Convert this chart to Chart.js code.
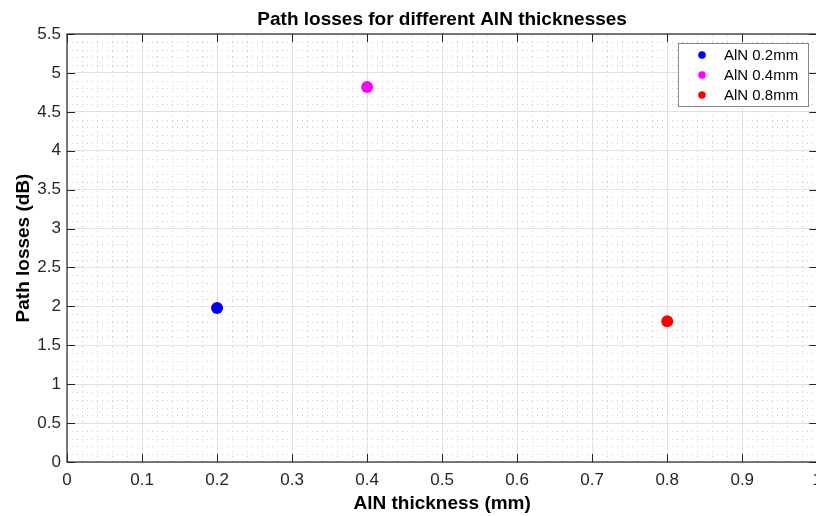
<!DOCTYPE html>
<html lang="en">
<head>
  <meta charset="UTF-8">
  <title>Path losses for different AlN thicknesses</title>
  <script src="https://cdn.jsdelivr.net/npm/chart.js"></script>
  <style>
    html, body {
      margin: 0;
      padding: 0;
      background: #fff;
      overflow: hidden;
    }

    .wrap {
      width: 830px;
      height: 516px;
    }
  </style>
</head>
<body>
  <div class="wrap"><canvas id="chart" width="830" height="516"></canvas></div>

  <script>
    // measured path losses, one point per AlN layer
    const seriesLabels = ['AlN 0.2mm', 'AlN 0.4mm', 'AlN 0.8mm'];
    const thickness = [0.2, 0.4, 0.8];
    const pathLoss = [1.98, 4.82, 1.81];
    const seriesColors = ['#0000ff', '#ff00ff', '#ff0000'];

    const xTicks = [0, 0.1, 0.2, 0.3, 0.4, 0.5, 0.6, 0.7, 0.8, 0.9, 1];
    const yTicks = [0, 0.5, 1, 1.5, 2, 2.5, 3, 3.5, 4, 4.5, 5, 5.5];

    const chartTitle = 'Path losses for different AlN thicknesses';

    const FONT = "'Liberation Sans', Arial, Helvetica, sans-serif";
    const AXIS = '#262626';

    // dotted minor grid, boxed axes with inward ticks, title over the plot
    const framePlugin = {
      id: 'frame',
      beforeDatasetsDraw(chart) {
        const { ctx, chartArea: a, scales: { x, y } } = chart;
        ctx.save();
        ctx.strokeStyle = '#cdcdcd';
        ctx.lineWidth = 1;
        ctx.setLineDash([1, 4]);
        for (let i = 1; i < 50; i++) {
          if (i % 5 === 0) continue;
          const px = Math.round(x.getPixelForValue(i / 50)) + 0.5;
          ctx.beginPath();
          ctx.moveTo(px, a.bottom);
          ctx.lineTo(px, a.top);
          ctx.stroke();
        }
        for (let i = 1; i < 55; i++) {
          if (i % 5 === 0) continue;
          const py = Math.round(y.getPixelForValue(i / 10)) + 0.5;
          ctx.beginPath();
          ctx.moveTo(a.left, py);
          ctx.lineTo(a.right, py);
          ctx.stroke();
        }
        ctx.setLineDash([]);

        ctx.strokeStyle = AXIS;
        ctx.lineWidth = 1.2;
        ctx.strokeRect(a.left, a.top, a.right - a.left, a.bottom - a.top);

        const tl = 8;
        ctx.lineWidth = 1;
        ctx.beginPath();
        xTicks.forEach(v => {
          const px = Math.round(x.getPixelForValue(v)) + 0.5;
          ctx.moveTo(px, a.bottom); ctx.lineTo(px, a.bottom - tl);
          ctx.moveTo(px, a.top); ctx.lineTo(px, a.top + tl);
        });
        yTicks.forEach(v => {
          const py = Math.round(y.getPixelForValue(v)) + 0.5;
          ctx.moveTo(a.left, py); ctx.lineTo(a.left + tl, py);
          ctx.moveTo(a.right, py); ctx.lineTo(a.right - tl, py);
        });
        ctx.stroke();

        ctx.fillStyle = '#000';
        ctx.font = 'bold 19px ' + FONT;
        ctx.textAlign = 'center';
        ctx.textBaseline = 'middle';
        ctx.fillText(chartTitle, (a.left + a.right) / 2, 20);
        ctx.restore();
      },
      afterDatasetsDraw(chart) {
        // legend box in the upper right corner
        const { ctx } = chart;
        const bx = 678, by = 43, bw = 130, bh = 63;
        ctx.save();
        ctx.fillStyle = '#fff';
        ctx.fillRect(bx, by, bw, bh);
        ctx.strokeStyle = '#8a8a8a';
        ctx.lineWidth = 1;
        ctx.strokeRect(bx + 0.5, by + 0.5, bw, bh);
        ctx.font = '15px ' + FONT;
        ctx.textBaseline = 'middle';
        chart.data.datasets.forEach((ds, i) => {
          const cy = by + 12 + i * 20;
          ctx.fillStyle = ds.backgroundColor;
          ctx.beginPath();
          ctx.arc(bx + 24, cy, 3.8, 0, Math.PI * 2);
          ctx.fill();
          ctx.fillStyle = '#000';
          ctx.fillText(ds.label, bx + 46, cy + 1);
        });
        ctx.restore();
      }
    };

    const fmt = v => String(Number(v.toFixed(2)));

    new Chart(document.getElementById('chart'), {
      type: 'scatter',
      data: {
        datasets: seriesLabels.map((label, i) => ({
          label,
          data: [{ x: thickness[i], y: pathLoss[i] }],
          backgroundColor: seriesColors[i],
          borderColor: seriesColors[i],
          borderWidth: 0,
          pointRadius: 6,
          pointHoverRadius: 6
        }))
      },
      options: {
        responsive: false,
        animation: false,
        devicePixelRatio: 1,
        layout: { padding: { top: 34, right: 12, bottom: 0, left: 0 } },
        plugins: {
          legend: { display: false },
          tooltip: { enabled: false },
          title: { display: false }
        },
        scales: {
          x: {
            type: 'linear',
            min: 0,
            max: 1,
            afterBuildTicks: s => { s.ticks = xTicks.map(value => ({ value })); },
            afterFit: s => { s.height = 54; },
            ticks: {
              color: AXIS,
              font: { family: FONT, size: 17 },
              padding: 8,
              maxRotation: 0,
              autoSkip: false,
              callback: fmt
            },
            grid: { color: '#e2e2e2', drawTicks: false },
            border: { display: false },
            title: {
              display: true,
              text: 'AlN thickness (mm)',
              color: '#000',
              font: { family: FONT, size: 19, weight: 'bold' },
              padding: { top: 0, bottom: 1 }
            }
          },
          y: {
            type: 'linear',
            min: 0,
            max: 5.5,
            afterBuildTicks: s => { s.ticks = yTicks.map(value => ({ value })); },
            afterFit: s => { s.width = 67; },
            ticks: {
              color: AXIS,
              font: { family: FONT, size: 17 },
              padding: 6,
              autoSkip: false,
              callback: fmt
            },
            grid: { color: '#e2e2e2', drawTicks: false },
            border: { display: false },
            title: {
              display: true,
              text: 'Path losses (dB)',
              color: '#000',
              font: { family: FONT, size: 19, weight: 'bold' },
              padding: { top: 12, bottom: 0 }
            }
          }
        }
      },
      plugins: [framePlugin]
    });
  </script>
</body>
</html>
